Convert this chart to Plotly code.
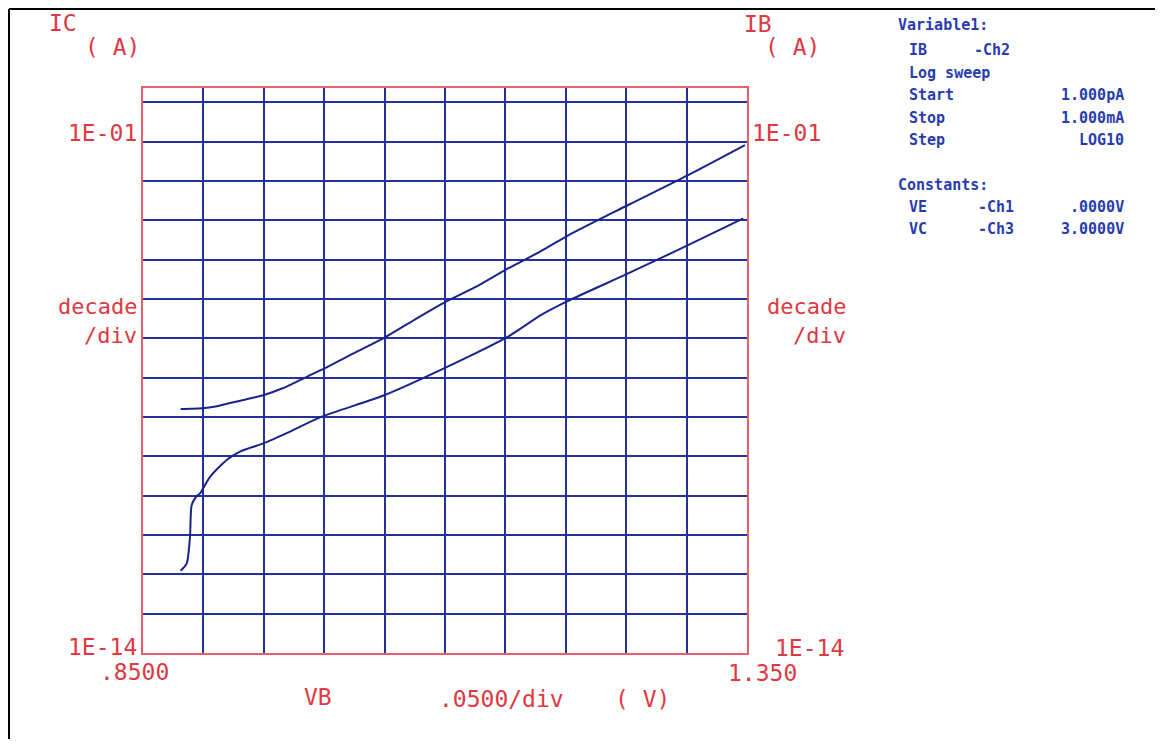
import plotly.graph_objects as go

# ---------------- data ----------------
vb_ic = [0.8812, 0.8900, 0.8991, 0.9100, 0.9220, 0.9350, 0.9502, 0.9650, 0.9800,
         0.9900, 1.0007, 1.0250, 1.0503, 1.0750, 1.1009, 1.1250, 1.1498, 1.1787, 1.2010,
         1.2516, 1.3012, 1.3483]
ic = [1.60e-8, 1.62e-8, 1.67e-8, 1.85e-8, 2.27e-8, 2.80e-8, 3.63e-8, 5.30e-8, 8.70e-8,
      1.23e-7, 1.76e-7, 4.27e-7, 1.06e-6, 3.00e-6, 8.55e-6, 2.00e-5, 5.47e-5, 1.60e-4, 4.00e-4,
      2.46e-3, 1.42e-2, 8.24e-2]

vb_ib = [0.8812, 0.8862, 0.8889, 0.8903, 0.8939, 0.8972, 0.9055, 0.9193, 0.9303,
         0.9496, 0.9717, 0.9980, 1.0503, 1.1009, 1.1514, 1.1800, 1.2010, 1.2516,
         1.3012, 1.3470]
ib = [1.24e-12, 1.91e-12, 9.06e-12, 5.80e-11, 9.33e-11, 1.15e-10, 3.02e-10, 8.10e-10, 1.32e-9,
      2.14e-9, 4.27e-9, 1.02e-8, 3.63e-8, 1.82e-7, 1.07e-6, 4.00e-6, 8.70e-6, 4.47e-5,
      2.34e-4, 1.12e-3]

x_min, x_max, x_step = 0.85, 1.35, 0.05
y_log_min = -14
y_log_top = 0.366

left_labels = ["1E-01", "1E-14"]
right_labels = ["1E-01", "1E-14"]
x_labels = [".8500", "1.350"]

info_left = ["IB", "Log sweep", "Start", "Stop", "Step"]
info_chan = ["-Ch2", "", "", "", ""]
info_val = ["", "", "1.000pA", "1.000mA", "LOG10"]
const_left = ["VE", "VC"]
const_chan = ["-Ch1", "-Ch3"]
const_val = [".0000V", "3.0000V"]

# ---------------- geometry / style ----------------
# the page body has an 8px margin; positions below are page pixels
OFF = 8
W, H = 1163 - 2 * OFF, 747 - 2 * OFF
L, R, T, B = 143, 747, 88, 653          # plot box in page pixels


def px(x):
    return (x - L) / (R - L)


def py(y):
    return (B - y) / (B - T)


RED = "rgb(225,55,65)"
RED_LINE = "rgb(232,95,105)"
GRID = "rgb(38,48,155)"
CURVE = "rgb(25,35,140)"
BLUE_TXT = "rgb(40,60,175)"
MONO = "DejaVu Sans Mono"

fig = go.Figure()
fig.add_trace(go.Scatter(x=vb_ic, y=ic, mode="lines", name="IC",
                         line=dict(color=CURVE, width=2, shape="spline", smoothing=0.8)))
fig.add_trace(go.Scatter(x=vb_ib, y=ib, mode="lines", name="IB",
                         line=dict(color=CURVE, width=2, shape="spline", smoothing=0.7)))

ann = []


def red(text, x, y, xa="center", size=23, ya="middle"):
    ann.append(dict(text=text, x=px(x), y=py(y), xref="paper", yref="paper",
                    xanchor=xa, yanchor=ya, showarrow=False,
                    font=dict(family=MONO, size=size, color=RED)))


def blue(text, x, y, xa="left"):
    ann.append(dict(text="<b>%s</b>" % text, x=px(x), y=py(y), xref="paper", yref="paper",
                    xanchor=xa, yanchor="middle", showarrow=False,
                    font=dict(family=MONO, size=15, color=BLUE_TXT)))


red("IC", 47, 23, "left")
red("( A)", 83, 47, "left")
red("IB", 742, 24, "left")
red("( A)", 822, 47, "right")
red(left_labels[0], 139, 133, "right")
red(left_labels[1], 139, 647, "right")
red(right_labels[0], 823, 133, "right")
red(right_labels[1], 846, 648, "right")
red("decade", 139, 321, "right", 22, "bottom")
red("/div", 139, 321, "right", 22, "top")
red("decade", 848, 321, "right", 22, "bottom")
red("/div", 848, 321, "right", 22, "top")
red(x_labels[0], 171, 672, "right")
red(x_labels[1], 799, 673, "right")
red("VB", 318, 697)
red(".0500/div", 437, 699, "left")
red("( V)", 672, 699, "right")

row_y = [50, 73, 95, 118, 140]
blue("Variable1:", 896, 25)
for t, c, v, yy in zip(info_left, info_chan, info_val, row_y):
    blue(t, 907, yy)
    if c:
        blue(c, 972, yy)
    if v:
        blue(v, 1126, yy, "right")
blue("Constants:", 896, 185)
for t, c, v, yy in zip(const_left, const_chan, const_val, [207, 229]):
    blue(t, 907, yy)
    blue(c, 976, yy)
    blue(v, 1126, yy, "right")

shapes = [
    dict(type="line", xref="paper", yref="paper", x0=px(OFF + 1), y0=py(OFF + 1),
         x1=px(OFF + W), y1=py(OFF + 1), line=dict(color="black", width=2)),
    dict(type="line", xref="paper", yref="paper", x0=px(OFF + 1), y0=py(OFF + 1),
         x1=px(OFF + 1), y1=py(OFF + H), line=dict(color="black", width=2)),
]

fig.update_layout(
    width=W, height=H,
    margin=dict(l=L - OFF, r=(W + OFF) - R, t=T - OFF, b=(H + OFF) - B, pad=0),
    paper_bgcolor="white", plot_bgcolor="white",
    showlegend=False,
    annotations=ann, shapes=shapes,
    xaxis=dict(range=[x_min, x_max], tick0=x_min, dtick=x_step,
               showgrid=True, gridcolor=GRID, gridwidth=2,
               showline=True, linecolor=RED_LINE, linewidth=2, mirror=True,
               showticklabels=False, ticks="", zeroline=False),
    yaxis=dict(type="log", range=[y_log_min, y_log_top], dtick=1,
               showgrid=True, gridcolor=GRID, gridwidth=2,
               showline=True, linecolor=RED_LINE, linewidth=2, mirror=True,
               showticklabels=False, ticks="", zeroline=False),
)

fig.write_html("out.html")
